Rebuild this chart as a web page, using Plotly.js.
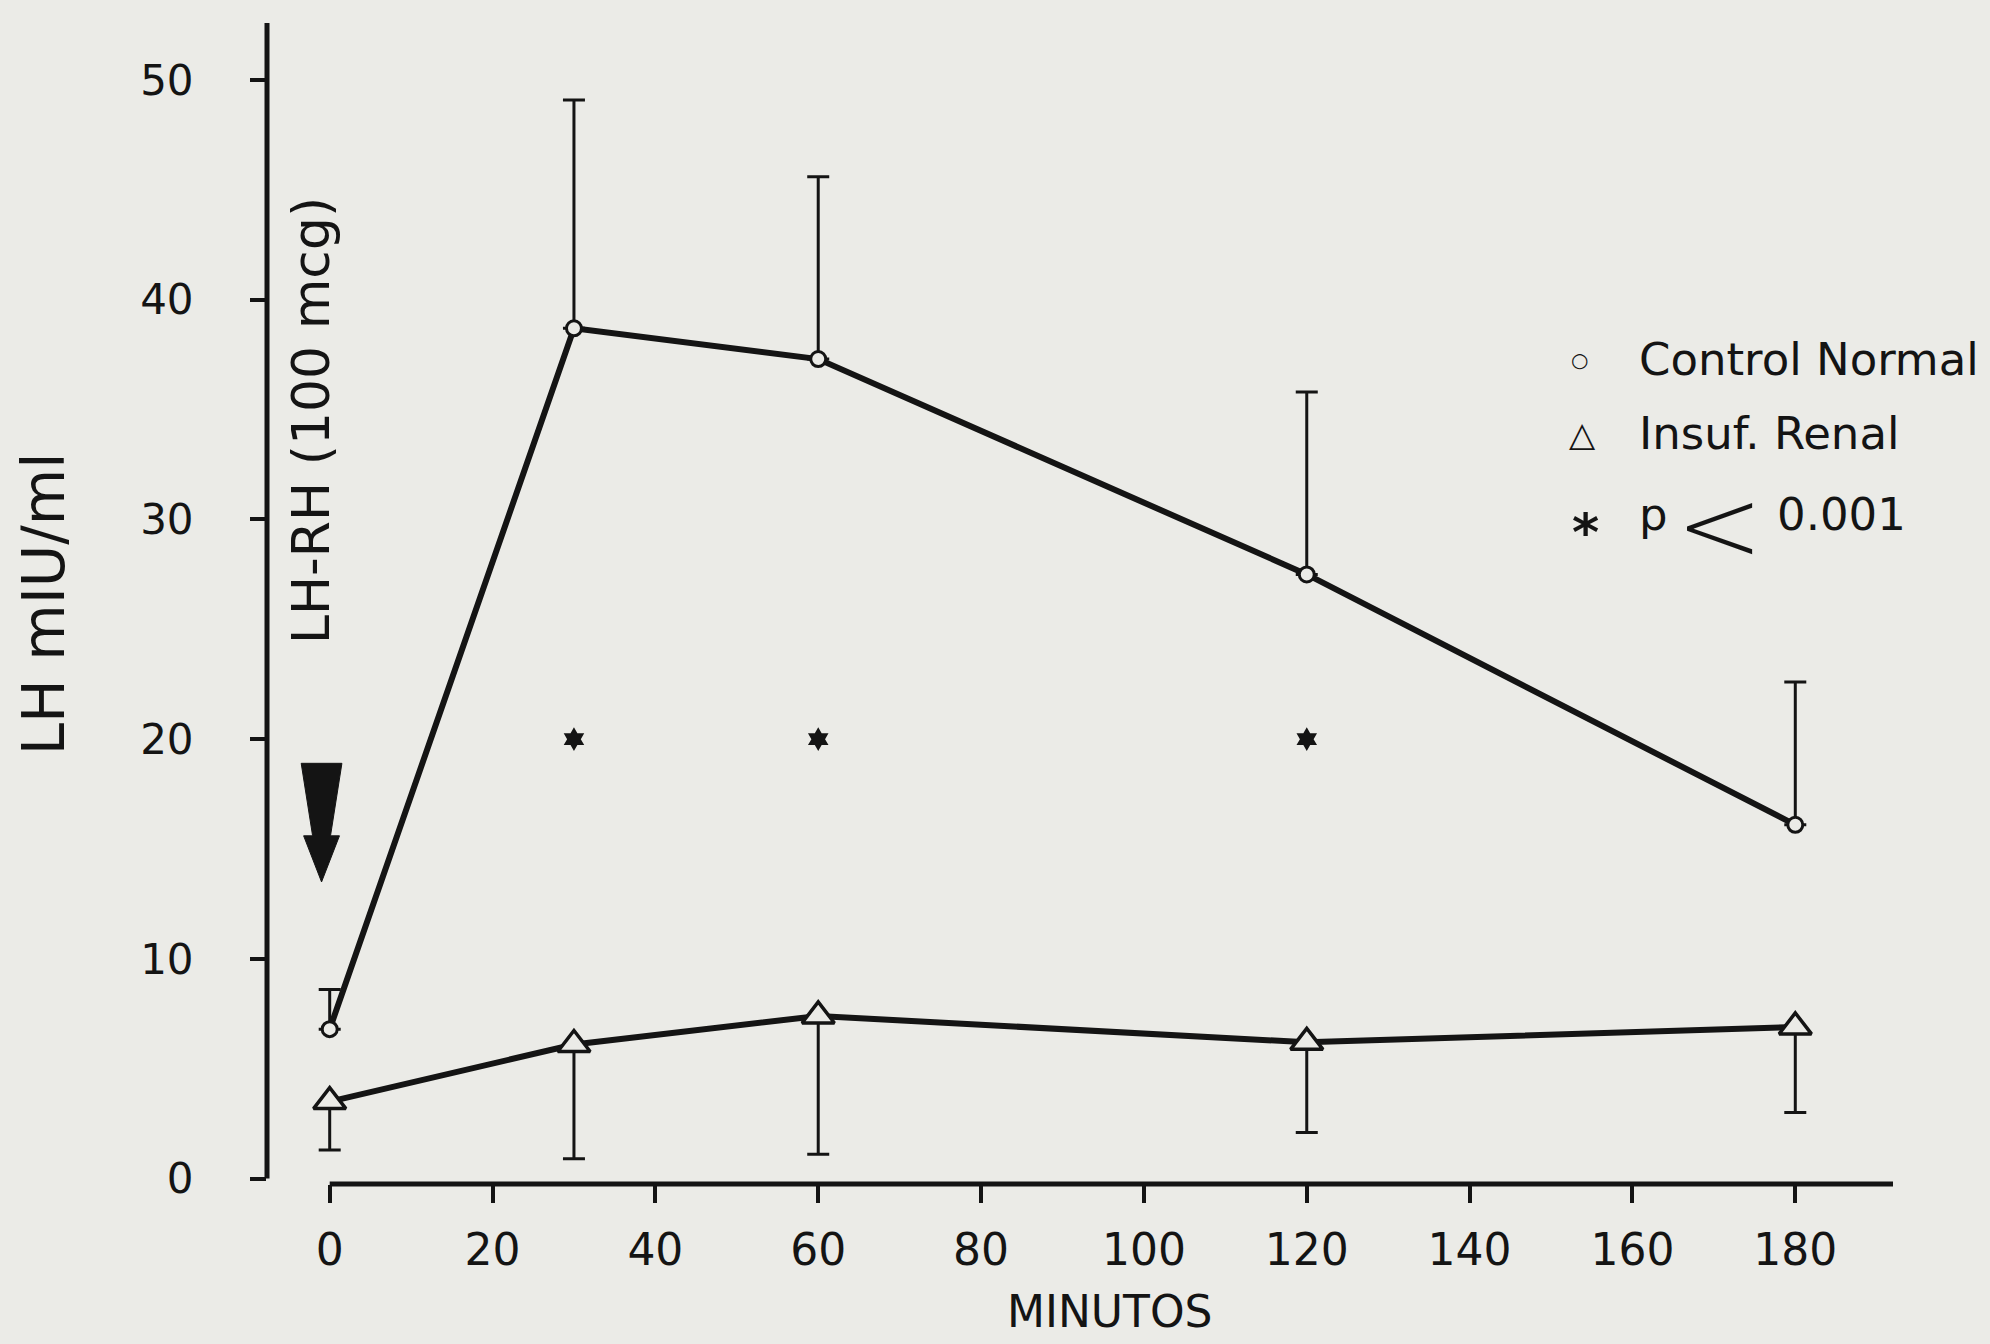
<!DOCTYPE html>
<html>
<head>
<meta charset="utf-8">
<script src="https://cdn.plot.ly/plotly-3.0.1.min.js"></script>
<style>
  html, body { margin: 0; padding: 0; background: #ebebe7; }
  #chart { width: 1990px; height: 1344px; }
</style>
</head>
<body>
<div id="chart"></div>
<script>
// ---- data ----
const minutes      = [0, 30, 60, 120, 180];
const controlLH    = [6.8, 38.7, 37.3, 27.5, 16.1];
const controlErrUp = [1.8, 10.4, 8.3, 8.3, 6.5];
const renalLH      = [3.5, 6.1, 7.4, 6.2, 6.9];
const renalErrDown = [2.2, 5.2, 6.3, 4.1, 3.9];
const sigMinutes   = [30, 60, 120];
const sigLH        = [20, 20, 20];
const xTickVals    = [0, 20, 40, 60, 80, 100, 120, 140, 160, 180];
const yTickVals    = [0, 10, 20, 30, 40, 50];
const zeros        = minutes.map(() => 0);

// ---- style ----
const INK = '#141414';
const BG = '#ebebe7';
const FONT = 'DejaVu Sans';
const X_RANGE = [-7.7, 192];
const Y_RANGE = [-0.25, 52.6];

const traces = [
  { x: minutes, y: controlLH, mode: 'lines', line: { color: INK, width: 6 }, hoverinfo: 'skip', showlegend: false },
  { x: minutes, y: renalLH, mode: 'lines', line: { color: INK, width: 6 }, hoverinfo: 'skip', showlegend: false },
  {
    name: 'Control Normal', x: minutes, y: controlLH, mode: 'markers',
    marker: { symbol: 'circle', size: 15, color: BG, line: { color: INK, width: 3 } },
    error_y: { type: 'data', symmetric: false, array: controlErrUp, arrayminus: zeros, color: INK, thickness: 3, width: 11 },
    showlegend: false
  },
  {
    name: 'Insuf. Renal', x: minutes, y: renalLH, mode: 'markers',
    marker: { symbol: 'triangle-up', size: 28, color: BG, line: { color: INK, width: 3.5 } },
    error_y: { type: 'data', symmetric: false, array: zeros, arrayminus: renalErrDown, color: INK, thickness: 3, width: 11 },
    showlegend: false
  },
  {
    name: 'p < 0.001', x: sigMinutes, y: sigLH, mode: 'markers',
    marker: { symbol: 'hexagram', size: 18, color: INK },
    showlegend: false
  }
];

// arrow marking the LH-RH injection (decoration)
const AX = -1.0, A_TOP = 18.9, A_NECK = 15.6, A_TIP = 13.5;
const arrowPath =
  `M${AX - 2.5},${A_TOP} L${AX + 2.5},${A_TOP} L${AX + 1.1},${A_NECK} L${AX + 2.2},${A_NECK} ` +
  `L${AX},${A_TIP} L${AX - 2.2},${A_NECK} L${AX - 1.1},${A_NECK} Z`;

const layout = {
  width: 1990, height: 1344,
  paper_bgcolor: BG, plot_bgcolor: BG,
  margin: { l: 267, r: 97, t: 23, b: 160 },
  font: { family: FONT, color: INK },
  showlegend: false,
  xaxis: {
    range: X_RANGE, tickmode: 'array', tickvals: xTickVals,
    showgrid: false, zeroline: false, showline: false,
    ticks: 'outside', ticklen: 18, tickwidth: 4, tickcolor: INK,
    ticklabelstandoff: 9,
    tickfont: { family: FONT, size: 44, color: INK }
  },
  yaxis: {
    range: Y_RANGE, tickmode: 'array', tickvals: yTickVals,
    showgrid: false, zeroline: false, showline: false,
    ticks: 'outside', ticklen: 16, tickwidth: 4, tickcolor: INK,
    ticklabelstandoff: 48,
    tickfont: { family: FONT, size: 42, color: INK }
  },
  shapes: [
    { type: 'line', xref: 'x', yref: 'paper', x0: 0, x1: 192, y0: 0, y1: 0, line: { color: INK, width: 5 } },
    { type: 'line', xref: 'paper', yref: 'y', x0: 0, x1: 0, y0: 0, y1: 52.6, line: { color: INK, width: 5 } },
    { type: 'path', xref: 'x', yref: 'y', path: arrowPath, fillcolor: INK, line: { color: INK, width: 1 } }
  ],
  annotations: [
    { text: 'LH mIU/ml', xref: 'paper', yref: 'paper', x: -0.137, y: 0.4996, textangle: -90,
      xanchor: 'center', yanchor: 'middle', showarrow: false, font: { family: FONT, size: 58, color: INK } },
    { text: 'LH-RH (100 mcg)', xref: 'paper', yref: 'paper', x: 0.027, y: 0.658, textangle: -90,
      xanchor: 'center', yanchor: 'middle', showarrow: false, font: { family: FONT, size: 52, color: INK } },
    { text: 'MINUTOS', xref: 'paper', yref: 'paper', x: 0.5185, y: -0.110,
      xanchor: 'center', yanchor: 'middle', showarrow: false, font: { family: FONT, size: 44, color: INK } },
    // legend
    { text: '○', xref: 'paper', yref: 'paper', x: 0.8075, y: 0.7100, xanchor: 'center', yanchor: 'middle',
      showarrow: false, font: { family: FONT, size: 20, color: INK } },
    { text: 'Control Normal', xref: 'paper', yref: 'paper', x: 0.8426, y: 0.7100, xanchor: 'left', yanchor: 'middle',
      showarrow: false, font: { family: FONT, size: 45, color: INK } },
    { text: '△', xref: 'paper', yref: 'paper', x: 0.8093, y: 0.6460, xanchor: 'center', yanchor: 'middle',
      showarrow: false, font: { family: FONT, size: 34, color: INK } },
    { text: 'Insuf. Renal', xref: 'paper', yref: 'paper', x: 0.8426, y: 0.6460, xanchor: 'left', yanchor: 'middle',
      showarrow: false, font: { family: FONT, size: 45, color: INK } },
    { text: '*', xref: 'paper', yref: 'paper', x: 0.8106, y: 0.5620, xanchor: 'center', yanchor: 'middle',
      showarrow: false, font: { family: FONT, size: 52, weight: 'bold', color: INK } },
    { text: 'p', xref: 'paper', yref: 'paper', x: 0.8426, y: 0.5765, xanchor: 'left', yanchor: 'middle',
      showarrow: false, font: { family: FONT, size: 45, color: INK } },
    { text: '&lt;', xref: 'paper', yref: 'paper', x: 0.8936, y: 0.5680, xanchor: 'center', yanchor: 'middle',
      showarrow: false, font: { family: FONT, size: 104, weight: 200, color: INK } },
    { text: '0.001', xref: 'paper', yref: 'paper', x: 0.9274, y: 0.5765, xanchor: 'left', yanchor: 'middle',
      showarrow: false, font: { family: FONT, size: 45, color: INK } }
  ]
};

Plotly.newPlot('chart', traces, layout, { staticPlot: true, displayModeBar: false });
</script>
</body>
</html>
